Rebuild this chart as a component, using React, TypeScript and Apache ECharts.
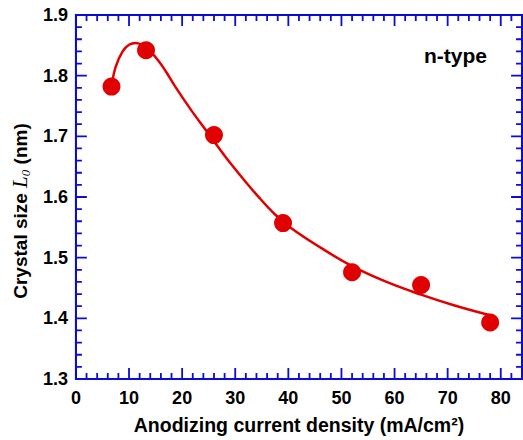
import React, { useEffect, useRef } from "react";
import * as echarts from "echarts";

// Measured crystal size vs anodizing current density (n-type)
const currentDensity = [6.7, 13.2, 26, 39, 52, 65, 78];
const crystalSize = [1.782, 1.842, 1.702, 1.557, 1.476, 1.455, 1.393];

// Fitted trend curve
const fitX = [6.7, 7.5, 8.8, 10, 11.3, 12.6, 14, 15.5, 17, 18.7, 21.8, 24.9, 28, 31.2, 34.3, 37.4, 40.5, 46, 52, 58.5, 65, 71, 78];
const fitY = [1.782, 1.815, 1.840, 1.851, 1.854, 1.850, 1.840, 1.825, 1.806, 1.782, 1.742, 1.705, 1.668, 1.633, 1.601, 1.572, 1.549, 1.517, 1.486, 1.460, 1.439, 1.422, 1.405];

// Axis ranges and tick marks
const xRange = { min: 0, max: 84 };
const yRange = { min: 1.3, max: 1.9 };
const xMajorTicks = [0, 10, 20, 30, 40, 50, 60, 70, 80];
const yMajorTicks = [1.3, 1.4, 1.5, 1.6, 1.7, 1.8, 1.9];
const xMinorStep = 2;
const yMinorStep = 0.02;

const BLUE = "#0c0cd4";
const RED = "#e00000";
const FONT = "Liberation Sans, Arial, Helvetica, sans-serif";
const SERIF = "Liberation Serif, Times New Roman, serif";

const W = 523, H = 440;
const GRID = { left: 73, top: 15, right: 1, bottom: 61 };
const MAJOR_LEN = 11;
const MINOR_LEN = 6;

// data units per pixel, from the plot box size
const xPerPx = (xRange.max - xRange.min) / (W - GRID.left - GRID.right);
const yPerPx = (yRange.max - yRange.min) / (H - GRID.top - GRID.bottom);

// [value, isMajor] pairs for each tick along an axis
function tickList(major: number[], step: number, max: number) {
  const out: number[][] = [];
  const n = Math.round((max - major[0]) / step);
  for (let i = 0; i <= n; i++) {
    const v = +(major[0] + i * step).toFixed(4);
    if (v > max + 1e-9) break;
    const isMajor = major.some((m) => Math.abs(m - v) < 1e-6);
    out.push([v, isMajor ? 1 : 0]);
  }
  return out;
}

// A comb-shaped polyline running along one frame edge, with inward teeth
function xComb(edge: number, dir: number) {
  const pts: number[][] = [];
  for (const [v, m] of tickList(xMajorTicks, xMinorStep, 82)) {
    const d = (m ? MAJOR_LEN : MINOR_LEN) * yPerPx * dir;
    pts.push([v, edge], [v, edge + d], [v, edge]);
  }
  return pts;
}
function yComb(edge: number, dir: number) {
  const pts: number[][] = [];
  for (const [v, m] of tickList(yMajorTicks, yMinorStep, 1.9)) {
    const d = (m ? MAJOR_LEN : MINOR_LEN) * xPerPx * dir;
    pts.push([edge, v], [edge + d, v], [edge, v]);
  }
  return pts;
}

const comb = (data: number[][]) => ({
  type: "line",
  data,
  showSymbol: false,
  smooth: false,
  clip: false,
  silent: true,
  lineStyle: { color: BLUE, width: 1.8, cap: "butt", join: "miter" },
  z: 4,
});

export default function App() {
  const ref = useRef<HTMLDivElement>(null);

  useEffect(() => {
    if (!ref.current) return;
    const chart = echarts.init(ref.current, undefined, { renderer: "svg" });

    const labelStyle = { color: "#000", fontSize: 18, fontWeight: "bold", fontFamily: FONT };

    chart.setOption({
      animation: false,
      backgroundColor: "#fff",
      grid: { ...GRID, show: true, borderColor: BLUE, borderWidth: 2 },
      xAxis: {
        type: "value",
        ...xRange,
        interval: 10,
        axisLine: { show: false },
        axisTick: { show: false },
        splitLine: { show: false },
        axisLabel: { ...labelStyle, margin: 10, showMaxLabel: false },
        name: "Anodizing current density (mA/cm\u00B2)",
        nameLocation: "middle",
        nameGap: 36,
        nameTextStyle: { color: "#000", fontSize: 19.5, fontWeight: "bold", fontFamily: FONT },
      },
      yAxis: {
        type: "value",
        ...yRange,
        interval: 0.1,
        axisLine: { show: false },
        axisTick: { show: false },
        splitLine: { show: false },
        axisLabel: { ...labelStyle, margin: 8, formatter: (v: number) => v.toFixed(1) },
        name: "{a|Crystal size }{i|L}{s|0}{a| (nm)}",
        nameLocation: "middle",
        nameGap: 40,
        nameRotate: 90,
        nameTextStyle: {
          padding: [0, 28, 0, 0],
          rich: {
            a: { color: "#000", fontSize: 19, fontWeight: "bold", fontFamily: FONT, lineHeight: 24 },
            i: { color: "#000", fontSize: 21, fontStyle: "italic", fontFamily: SERIF, lineHeight: 24 },
            s: { color: "#000", fontSize: 13, fontStyle: "italic", fontFamily: SERIF, lineHeight: 13, padding: [11, 0, 0, 0] },
          },
        },
      },
      graphic: [
        {
          type: "text",
          left: 424,
          top: 45,
          style: { text: "n-type", fill: "#000", fontSize: 21, fontWeight: "bold", fontFamily: FONT },
        },
      ],
      series: [
        comb(xComb(yRange.min, 1)),
        comb(xComb(yRange.max, -1)),
        comb(yComb(xRange.min, 1)),
        comb(yComb(xRange.max, -1)),
        {
          type: "line",
          data: fitX.map((x, i) => [x, fitY[i]]),
          smooth: 0.4,
          showSymbol: false,
          lineStyle: { color: RED, width: 2.5 },
          z: 2,
        },
        {
          type: "scatter",
          data: currentDensity.map((x, i) => [x, crystalSize[i]]),
          symbol: "circle",
          symbolSize: 18,
          itemStyle: { color: RED, opacity: 1 },
          z: 3,
        },
      ],
    });

    return () => chart.dispose();
  }, []);

  return <div ref={ref} style={{ position: "fixed", left: 0, top: 0, width: W, height: H }} />;
}
